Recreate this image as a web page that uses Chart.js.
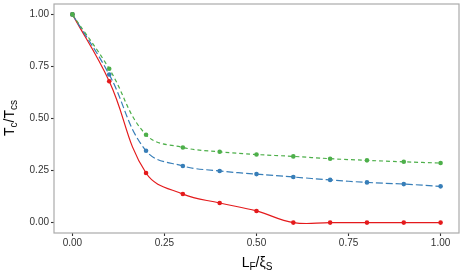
<!DOCTYPE html>
<html>
<head>
<meta charset="utf-8">
<script src="https://cdn.jsdelivr.net/npm/chart.js@4"></script>
<style>
    html, body { margin: 0; padding: 0; background: #fff; }
    #wrap { position: relative; width: 463px; height: 274px; font-family: 'Liberation Sans', Arial, sans-serif; }
    #chart { position: absolute; left: 0; top: 0; }
    .axis-title { position: absolute; font-size: 14px; color: #000; white-space: nowrap; }
    .axis-title sub { font-size: 10px; vertical-align: -3px; }
    #xTitle { left: 257px; top: 254px; transform: translateX(-50%); }
    #yTitle { left: 10px; top: 118px; transform: translate(-50%, -50%) rotate(-90deg); }
</style>
</head>
<body>
<div id="wrap">
    <canvas id="chart" width="463" height="274"></canvas>
    <div class="axis-title" id="xTitle">L<sub>F</sub>/ξ<sub>S</sub></div>
    <div class="axis-title" id="yTitle">T<sub>c</sub>/T<sub>cs</sub></div>
</div>
<script>
// data
const lengths = [0, 0.1, 0.2, 0.3, 0.4, 0.5, 0.6, 0.7, 0.8, 0.9, 1.0];
const redSeries = [1.0, 0.679, 0.238, 0.137, 0.094, 0.056, 0.0, 0.0, 0.0, 0.0, 0.0];
const blueSeries = [1.0, 0.711, 0.345, 0.272, 0.248, 0.233, 0.219, 0.205, 0.193, 0.185, 0.174];
const greenSeries = [1.0, 0.739, 0.422, 0.361, 0.340, 0.327, 0.318, 0.307, 0.299, 0.292, 0.286];
const xTicks = [0, 0.25, 0.5, 0.75, 1.0];
const yTicks = [0, 0.25, 0.5, 0.75, 1.0];

function toPoints(values) {
    return lengths.map((x, i) => ({ x: x, y: values[i] }));
}

// grey frame round the plotting panel
const panelBorder = {
    id: 'panelBorder',
    beforeDatasetsDraw(chart) {
        const a = chart.chartArea;
        const ctx = chart.ctx;
        ctx.save();
        ctx.strokeStyle = '#ababab';
        ctx.lineWidth = 1.2;
        ctx.strokeRect(a.left, a.top, a.right - a.left, a.bottom - a.top);
        ctx.restore();
    }
};

const ctx = document.getElementById('chart');
new Chart(ctx, {
    type: 'line',
    data: {
        datasets: [
            {
                label: 'green',
                data: toPoints(greenSeries),
                borderColor: '#4DAF4A',
                backgroundColor: '#4DAF4A',
                borderWidth: 1.2,
                borderDash: [4, 3],
                pointRadius: 2.3,
                pointBorderWidth: 0,
                tension: 0.4
            },
            {
                label: 'blue',
                data: toPoints(blueSeries),
                borderColor: '#377EB8',
                backgroundColor: '#377EB8',
                borderWidth: 1.2,
                borderDash: [7, 3],
                pointRadius: 2.3,
                pointBorderWidth: 0,
                tension: 0.4
            },
            {
                label: 'red',
                data: toPoints(redSeries),
                borderColor: '#E41A1C',
                backgroundColor: '#E41A1C',
                borderWidth: 1.2,
                pointRadius: 2.3,
                pointBorderWidth: 0,
                tension: 0.4
            }
        ]
    },
    options: {
        responsive: false,
        animation: false,
        layout: { padding: { top: 3, right: 3, left: 0, bottom: 0 } },
        plugins: { legend: { display: false }, tooltip: { enabled: false } },
        scales: {
            x: {
                type: 'linear',
                min: -0.05,
                max: 1.05,
                afterBuildTicks: (scale) => { scale.ticks = xTicks.map(v => ({ value: v })); },
                afterFit: (scale) => {
                    scale.height = 41;
                    scale.paddingLeft = 0;
                    scale.paddingRight = 0;
                },
                border: { display: false },
                grid: { drawOnChartArea: false, drawTicks: true, tickLength: 3, color: '#333', tickWidth: 1.1 },
                ticks: {
                    padding: 1,
                    maxRotation: 0,
                    color: '#333',
                    font: { family: 'Liberation Sans', size: 10 },
                    callback: (v) => Number(v).toFixed(2)
                }
            },
            y: {
                type: 'linear',
                min: -0.05,
                max: 1.05,
                afterBuildTicks: (scale) => { scale.ticks = yTicks.map(v => ({ value: v })); },
                afterFit: (scale) => {
                    scale.width = 54;
                    scale.paddingTop = 0;
                    scale.paddingBottom = 0;
                },
                border: { display: false },
                grid: { drawOnChartArea: false, drawTicks: true, tickLength: 3, color: '#333', tickWidth: 1.1 },
                ticks: {
                    padding: 2,
                    color: '#333',
                    font: { family: 'Liberation Sans', size: 10 },
                    callback: (v) => Number(v).toFixed(2)
                }
            }
        }
    },
    plugins: [panelBorder]
});
</script>
</body>
</html>
